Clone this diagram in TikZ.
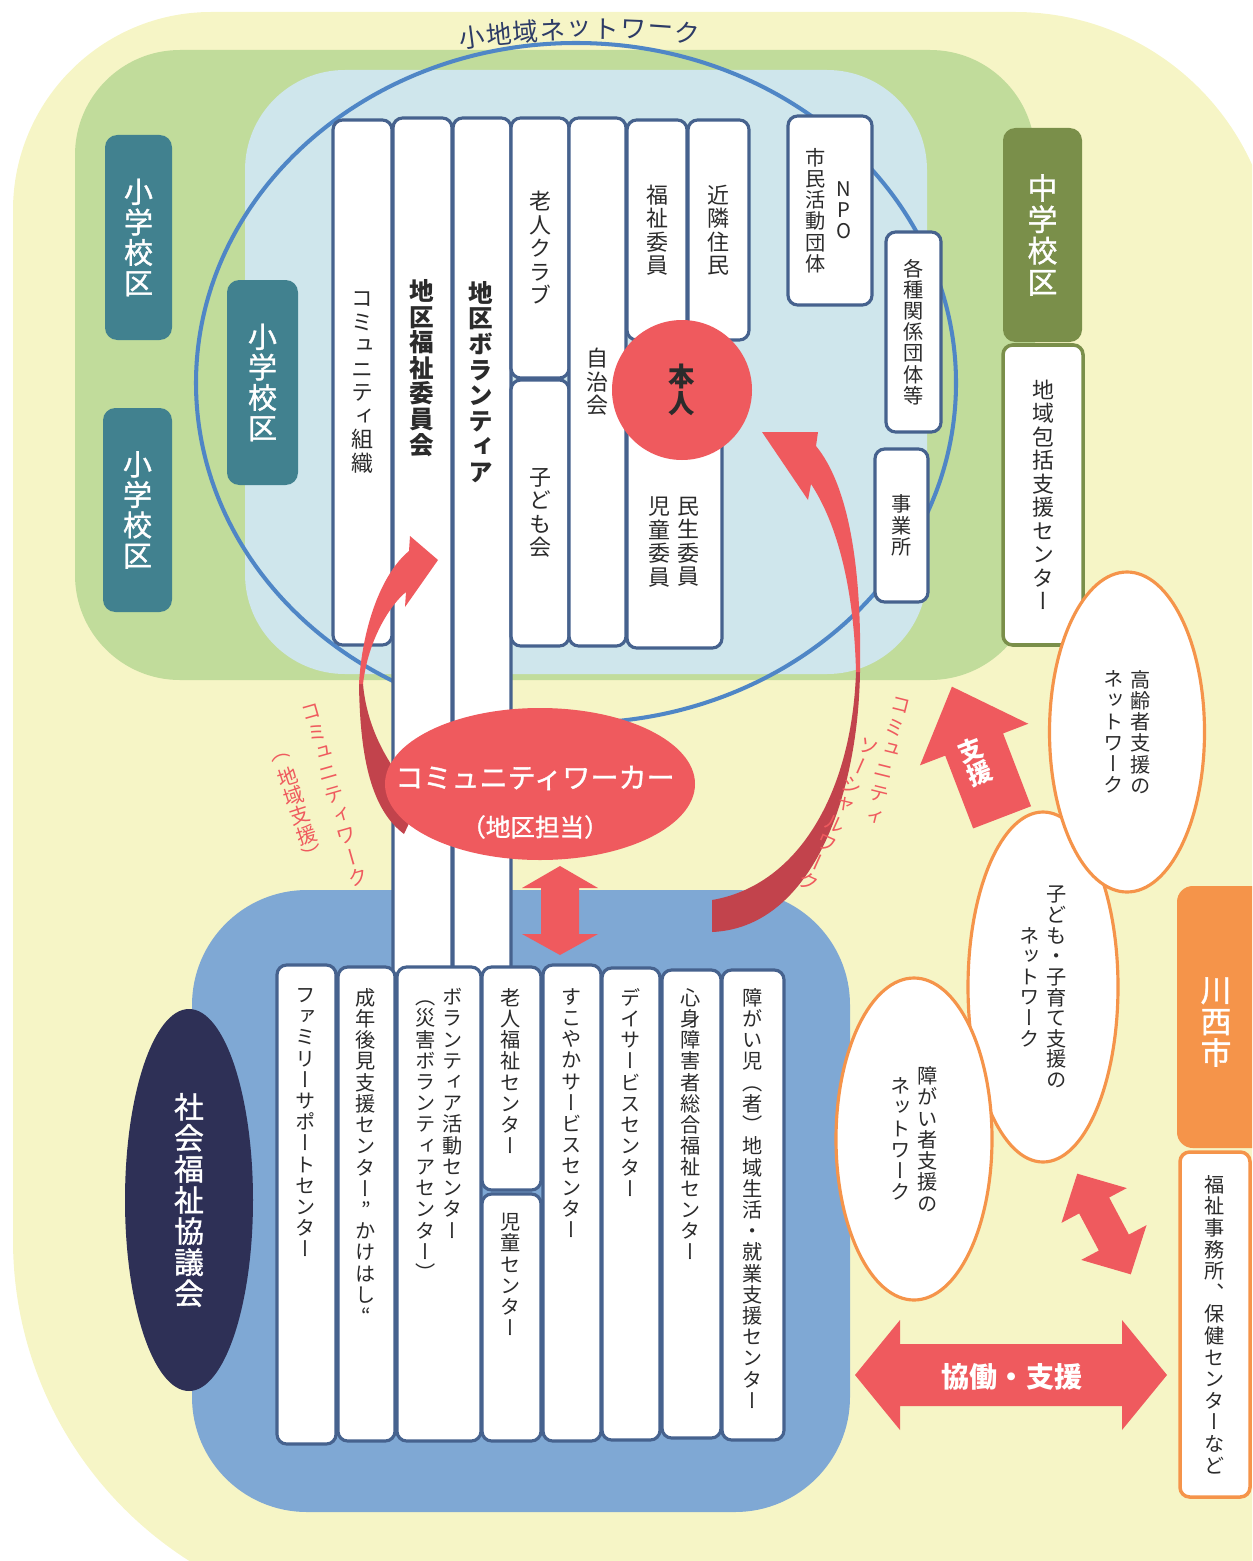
\documentclass[tikz,border=0pt]{standalone}
\usepackage{fontspec}
\setmainfont{Noto Sans CJK JP}
\newfontfamily\vjp[RawFeature=+vert]{Noto Sans CJK JP}
\newfontfamily\jpmid[FakeBold=1.2]{Noto Sans CJK JP}
\newfontfamily\vjpmid[RawFeature=+vert,FakeBold=1.2]{Noto Sans CJK JP}
\let\vfont\vjp
\usetikzlibrary{shapes.geometric}

\definecolor{yelbg}{HTML}{F6F5C6}
\definecolor{grnbg}{HTML}{C1DC9B}
\definecolor{lbbg}{HTML}{CFE6EC}
\definecolor{ringc}{HTML}{4F86C6}
\definecolor{boxline}{HTML}{46628E}
\definecolor{tealc}{HTML}{41818F}
\definecolor{olivec}{HTML}{7A8F4A}
\definecolor{orangec}{HTML}{F5944A}
\definecolor{botbg}{HTML}{7FA8D4}
\definecolor{navyc}{HTML}{2E3056}
\definecolor{redc}{HTML}{EF5A5E}
\definecolor{darkred}{HTML}{C2434C}
\definecolor{inkc}{HTML}{2B2B2B}
\definecolor{arcink}{HTML}{2D3B66}

\newcommand\fsz[1]{\fontsize{#1}{#1}\selectfont}

% one character per line, top to bottom
\ExplSyntaxOn
\NewDocumentCommand\vstack{O{1.05}m}
 {
  \vtop
   {
    \vfont
    \baselineskip=#1em
    \lineskiplimit=-\maxdimen
    \tl_map_inline:nn {#2} { \hbox_to_wd:nn {1em} { \hss ##1 \hss } }
   }
 }
\ExplSyntaxOff
% two columns, first one on the right
\NewDocumentCommand\vpair{O{1.05}O{0.35em}mm}{\hbox{$\vcenter{\hbox{\vstack[#1]{#4}}}$\hspace{#2}$\vcenter{\hbox{\vstack[#1]{#3}}}$}}
\NewDocumentCommand\vpairtop{O{1.05}O{0.35em}mm}{\hbox{\vstack[#1]{#4}\hspace{#2}\vstack[#1]{#3}}}

\tikzset{
  wh/.style 2 args={minimum width=#1*0.02cm, minimum height=#2*0.02cm},
  colbox/.style={draw=boxline, fill=white, line width=1.8pt, rounded corners=5.5pt,
    inner sep=0pt, text=inkc, font=\fsz{12.5}},
  lowbox/.style={colbox, font=\fsz{11.5}},
  coltext/.style={inner sep=0pt, text=inkc, font=\fsz{12.5}},
  lowtext/.style={inner sep=0pt, text=inkc, font=\fsz{11.5}},
  boldtext/.style={inner sep=0pt, text=inkc, font=\fsz{14}\bfseries},
  midfont/.style={font=\fsz{#1}\jpmid\let\vfont\vjpmid},
  kubox/.style={fill=tealc, rounded corners=7pt, inner sep=0pt, text=white, midfont=16.5},
  netell/.style={ellipse, draw=orangec, line width=1.8pt, fill=white, inner sep=0pt,
    text=inkc, font=\fsz{11.5}},
  redtext/.style={inner sep=0pt, text=redc, font=\fsz{11.5}\vjp},
  arctext/.style={inner sep=0pt, text=arcink, font=\fsz{14.5}},
}

\begin{document}
\begin{tikzpicture}[x=0.02cm, y=-0.02cm]
\useasboundingbox (0,0) rectangle (1252,1561);
\clip (0,0) rectangle (1252,1561);

% areas
\fill[yelbg] (13,1240) -- (13,210) .. controls (13,101) and (102,12) .. (211,12) -- (1015,12)
  .. controls (1159,12) and (1275,128) .. (1275,272) -- (1275,1620) -- (393,1620)
  .. controls (183,1620) and (13,1450) .. (13,1240) -- cycle; % city
\fill[grnbg, rounded corners=2.1cm] (75,50) rectangle (1035,680); % middle school
\fill[lbbg, rounded corners=2cm] (245,70) rectangle (927,674); % district
\fill[botbg, rounded corners=2.3cm] (192,890) rectangle (850,1512); % council
\draw[ringc, line width=2.3pt] (576,383) ellipse [x radius=380, y radius=340]; % small area ring

% school districts
\node[kubox, wh={67}{205}] (sho1) at (138.5,237.5) {\vstack{小学校区}};
\node[kubox, wh={69}{204}] (sho2) at (137.5,510) {\vstack{小学校区}};
\node[kubox, wh={71}{205}] (sho3) at (262.5,382.5) {\vstack{小学校区}};
\node[kubox, fill=olivec, wh={79}{214}, midfont=17] (chu) at (1042.5,235) {\vstack{中学校区}};
\node[colbox, draw=olivec, line width=2pt, wh={80}{300}] (houkatsu) at (1043,495) {\vstack[1.07]{地域包括支援センター}};

% district columns
\node[colbox, wh={59}{525}] (comm) at (362.5,382.5) {\vstack[1.07]{コミュニティ組織}};
\node[colbox, wh={59}{877}] (fukui) at (422.5,556.5) {};
\node[boldtext] (fukui t) at (422,368) {\vstack[1.04]{地区福祉委員会}};
\node[colbox, wh={58}{877}] (vol) at (482,556.5) {};
\node[boldtext] (vol t) at (481,382) {\vstack[1.04]{地区ボランティア}};
\node[colbox, wh={58}{260}] (rojin) at (540,248) {\vstack[1.07]{老人クラブ}};
\node[colbox, wh={58}{266}] (kodomo) at (540,513) {\vstack[1.07]{子ども会}};
\node[colbox, wh={57}{528}] (jichi) at (597.5,382) {\vstack[1.07]{自治会}};
\node[colbox, wh={60}{220}] (fukushi) at (657,230) {\vstack[1.07]{福祉委員}};
\node[colbox, wh={61}{220}] (kinrin) at (718.5,230) {\vstack[1.07]{近隣住民}};
\node[colbox, wh={95}{228}] (minsei) at (674.5,534) {};
\node[coltext] (minsei t) at (674,542) {\vpair[1.07]{民生委員}{児童委員}};
\node[colbox, wh={84}{189}, font=\fsz{11.5}] (npo) at (830,210.5) {\vpair[1.05][0.4em]{NPO}{市民活動団体}};
\node[colbox, wh={55}{200}, font=\fsz{11.5}] (kakushu) at (913.5,332) {\vstack[1.05]{各種関係団体等}};
\node[colbox, wh={53}{153}, font=\fsz{11.5}] (jigyo) at (901.5,525.5) {\vstack[1.08]{事業所}};
\node[circle, fill=redc, minimum size=140*0.02cm, inner sep=0pt, text=inkc,
  font=\fsz{15}\bfseries] (honnin) at (682,390) {\vstack[1.02]{本人}};

% council columns
\node[lowbox, wh={59}{479}] (family) at (306.5,1204.5) {};
\node[lowbox, wh={57}{474}] (seinen) at (366.5,1204) {};
\node[lowbox, wh={84}{474}] (volc) at (439,1204) {};
\node[lowbox, wh={59}{223}] (rojinc) at (511.5,1078.5) {};
\node[lowbox, wh={59}{247}] (jidoc) at (511.5,1317.5) {};
\node[lowbox, wh={58}{476}] (sukoyaka) at (572,1203) {};
\node[lowbox, wh={58}{472}] (day) at (631,1204) {};
\node[lowbox, wh={59}{468}] (shinshin) at (691.5,1204) {};
\node[lowbox, wh={62}{470}] (shogai) at (753,1205) {};
\node[lowtext, anchor=north] (family t) at (306,988) {\vstack{ファミリーサポートセンター}};
\node[lowtext, anchor=north] (seinen t) at (366,988) {\vstack{成年後見支援センター”かけはし“}};
\node[lowtext, anchor=north] (volc t) at (439,988) {\vpairtop[1.05][0.3em]{ボランティア活動センター}{（災害ボランティアセンター）}};
\node[lowtext, anchor=north] (rojinc t) at (511,988) {\vstack{老人福祉センター}};
\node[lowtext, anchor=north] (jidoc t) at (511,1213) {\vstack{児童センター}};
\node[lowtext, anchor=north] (sukoyaka t) at (572,988) {\vstack{すこやかサービスセンター}};
\node[lowtext, anchor=north] (day t) at (631,988) {\vstack{デイサービスセンター}};
\node[lowtext, anchor=north] (shinshin t) at (691,988) {\vstack{心身障害者総合福祉センター}};
\node[lowtext, anchor=north] (shogai t) at (753,988) {\vstack{障がい児（者）地域生活・就業支援センター}};
\node[ellipse, fill=navyc, wh={128}{382}, inner sep=0pt, text=white,
  midfont=17] (shakyo) at (189,1200) {\vstack[1.04]{社会福祉協議会}};

% community work swoosh
\fill[darkred] (359,684) .. controls (360,760) and (372,810) .. (404,834) -- (420,800)
  .. controls (390,770) and (367,730) .. (363,684) -- cycle;
\fill[redc] (359,684) .. controls (362,630) and (380,575) .. (409,551) -- (410,536) -- (438,560)
  -- (405,607) -- (406,592) .. controls (390,605) and (368,640) .. (363,684) -- cycle;

% community worker
\node[ellipse, fill=redc, wh={310}{152}, inner sep=0pt] (cw) at (540,784) {};
\node[inner sep=0pt, text=white, midfont=16] (cw t1) at (535,778) {コミュニティワーカー};
\node[inner sep=0pt, text=white, midfont=14] (cw t2) at (535,827) {（地区担当）};
\fill[redc] (560,866) -- (598,888) -- (579,888) -- (579,934) -- (598,934) -- (560,955)
  -- (522,934) -- (541,934) -- (541,888) -- (522,888) -- cycle; % cw <-> council

% community social work swoosh
\fill[darkred] (856,672) .. controls (852,790) and (800,885) .. (712,900) -- (712,932)
  .. controls (810,928) and (858,800) .. (860,672) -- cycle;
\fill[redc] (860,672) .. controls (862,565) and (848,485) .. (816,446) -- (818,432) -- (762,432)
  -- (808,500) -- (811,484) .. controls (838,525) and (854,590) .. (856,672) -- cycle;

% networks
\node[netell, wh={150}{350}] (kosodate) at (1043,987) {\vpair[1.02]{子ども・子育て支援の}{ネットワーク}};
\node[netell, wh={155}{320}] (kourei) at (1127,732) {\vpair[1.05]{高齢者支援の}{ネットワーク}};
\node[netell, wh={156}{322}] (shogainet) at (914,1139) {\vpair[1.05]{障がい者支援の}{ネットワーク}};

% support arrow
\begin{scope}[shift={(977,752)}, rotate=21]
\fill[redc] (0,-70) -- (58,-8) -- (31,-8) -- (31,70) -- (-31,70) -- (-31,-8) -- (-58,-8) -- cycle;
\end{scope}
\node[inner sep=0pt, text=white, font=\fsz{14}\bfseries, rotate=21] (shien) at (975,762) {\vstack[1.02]{支援}};

% city <-> networks
\begin{scope}[shift={(1104,1224)}, rotate=28]
\fill[redc] (0,-57) -- (37,-21) -- (17,-21) -- (17,21) -- (37,21) -- (0,57)
  -- (-37,21) -- (-17,21) -- (-17,-21) -- (-37,-21) -- cycle;
\end{scope}
\fill[redc] (855,1375) -- (900,1320) -- (900,1344) -- (1122,1344) -- (1122,1320) -- (1167,1375)
  -- (1122,1430) -- (1122,1406) -- (900,1406) -- (900,1430) -- cycle; % council <-> city
\node[inner sep=0pt, text=white, font=\fsz{16}\bfseries] (kyodo) at (1012,1377) {協働・支援};

% city
\node[kubox, fill=orangec, rounded corners=9pt, wh={93}{262}] (shi) at (1223.5,1017) {};
\node[inner sep=0pt, text=white, midfont=17.5] (shi t) at (1216,1022) {\vstack[1.02]{川西市}};
\node[colbox, draw=orangec, line width=2pt, wh={70}{345}, font=\fsz{11.5}] (jimusho) at (1215,1324.5)
  {\vstack[1.07]{福祉事務所、保健センターなど}};

% curved labels
\foreach \ch [count=\i from 0] in {小,地,域,ネ,ッ,ト,ワ,ー,ク} {
  \pgfmathsetmacro\xx{472+26.9*\i}
  \pgfmathsetmacro\yy{29+0.00053*(\xx-595)*(\xx-595)}
  \pgfmathsetmacro\rr{atan(0.00106*(595-\xx))}
  \node[arctext, rotate=\rr] (arc\i) at (\xx,\yy) {\ch};
}
% slanted vertical labels, one node per character
\foreach \ch [count=\i from 0] in {コ,ミ,ュ,ニ,テ,ィ,ワ,ー,ク}
  \node[redtext, rotate=16] (cwa\i) at ({311+21.5*\i*sin(16)},{712+21.5*\i*cos(16)}) {\ch};
\foreach \ch [count=\i from 0] in {（,地,域,支,援,）}
  \node[redtext, rotate=18] (cwb\i) at ({281+20.5*\i*sin(18)},{757+20.5*\i*cos(18)}) {\ch};
\foreach \ch [count=\i from 0] in {コ,ミ,ュ,ニ,テ,ィ}
  \node[redtext, rotate=-14] (cswa\i) at ({901-23*\i*sin(14)},{705+23*\i*cos(14)}) {\ch};
\foreach \ch [count=\i from 0] in {ソ,ー,シ,ャ,ル,ワ,ー,ク}
  \node[redtext, rotate=-24] (cswb\i) at ({869-21*\i*sin(24)},{747+21*\i*cos(24)}) {\ch};

\end{tikzpicture}
\end{document}
